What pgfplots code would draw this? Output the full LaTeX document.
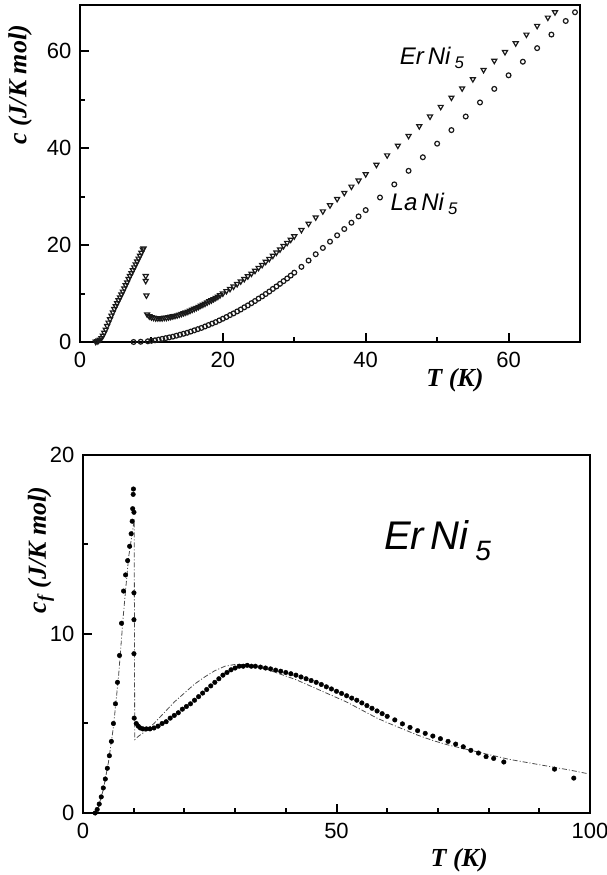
\documentclass[border=0pt]{standalone}
\usepackage{fontspec}
\setmainfont{Liberation Serif}
\setsansfont{Liberation Sans}
\usepackage{pgfplots}
\pgfplotsset{compat=1.18}
\pgfplotsset{
  mystyle/.style={
    scale only axis, clip=false,
    axis line style={line width=2.5pt},
    tick style={line width=2pt, black},
    tick align=inside,
    xtick pos=bottom, ytick pos=left,
    major tick length=9pt, minor tick length=5pt,
    ticklabel style={font=\sffamily\fontsize{22}{24}\selectfont},
    xticklabel style={yshift=-7pt},
    yticklabel style={xshift=-5pt},
    /pgf/number format/assume math mode=true,
    label style={font=\rmfamily\bfseries\itshape\fontsize{26}{28}\selectfont},
  }
}
\begin{document}
\begin{tikzpicture}[x=1pt,y=1pt]
\path[use as bounding box] (0,0) rectangle (607,875);
% ---------------- top panel ----------------
\begin{axis}[mystyle,
  at={(80pt,533pt)}, anchor=south west,
  width=500pt, height=337pt,
  xmin=0, xmax=70, ymin=0, ymax=69.5,
  xtick={0,20,40,60}, minor xtick={10,30,50},
  ytick={0,20,40,60}, minor ytick={10,30,50},
  xlabel={T (K)},
  xlabel style={at={(axis description cs:0.75,-0.113)}, anchor=center},
  ylabel={c (J/K mol)},
  ylabel style={at={(axis description cs:-0.12,0.763)}, anchor=center},
]
\addplot[only marks, black!90, mark=triangle, mark size=2.9pt,
  mark options={rotate=180, line width=1.2pt, fill=none}] coordinates {
(2.2,0.05)(2.4,0.15)(2.6,0.3)(2.8,0.5)(3.0,0.8)(3.2,1.3)(3.4,1.9)(3.6,2.55)(3.8,3.3)(4.0,4.0)
(4.2,4.7)(4.4,5.45)(4.6,6.1)(4.8,6.8)(5.0,7.4)(5.2,8.0)(5.4,8.6)(5.6,9.2)(5.8,9.8)(6.0,10.4)
(6.2,11.05)(6.4,11.7)(6.6,12.3)(6.8,13.0)(7.0,13.6)(7.2,14.2)(7.4,14.8)(7.6,15.4)(7.8,16.0)
(8.0,16.6)(8.2,17.2)(8.4,17.8)(8.6,18.4)(8.8,19.1)(8.9,19.3)
(9.2,13.6)(9.2,12.6)(9.3,9.6)
(9.4,5.7)(9.7,5.3)(10.0,5.1)(10.3,5.0)(10.6,4.9)(10.9,4.9)(11.2,4.9)(11.5,4.9)(11.8,5.0)
(12.1,5.0)(12.4,5.1)(12.7,5.2)(13.0,5.3)(13.3,5.4)(13.6,5.5)(13.9,5.65)(14.2,5.8)(14.5,5.95)
(14.8,6.1)(15.1,6.25)(15.4,6.45)(15.7,6.65)(16.0,6.85)(16.3,7.05)(16.6,7.25)(16.9,7.5)
(17.2,7.7)(17.5,7.9)(17.8,8.15)(18.1,8.4)(18.4,8.6)(18.7,8.85)(19.0,9.1)(19.3,9.35)(19.6,9.65)
(20.0,10.0)(20.5,10.5)(21,10.95)(21.5,11.45)(22,11.95)(22.5,12.5)(23,13.0)(23.5,13.55)
(24,14.1)(24.5,14.7)(25,15.3)(25.5,15.9)(26,16.55)(26.5,17.15)(27,17.8)(27.5,18.45)
(28,19.1)(28.5,19.8)(29,20.45)(29.5,21.1)(30,21.8)(31,23.1)(32,24.4)(33,25.7)(34,26.95)
(35,28.2)(36,29.5)(37,30.75)(38,32.05)(39,33.3)(40,34.6)(41.5,36.55)(43,38.5)(44.5,40.5)
(46,42.5)(47.5,44.5)(49,46.5)(50.5,48.5)(52,50.4)(53.5,52.3)(55,54.2)(56.5,56.1)(58,58.0)
(59.5,59.8)(61,61.6)(62.5,63.4)(64,65.2)(65.5,66.9)(66.5,68.0)
};
\addplot[only marks, black!90, mark=o, mark size=2.4pt,
  mark options={line width=1.2pt}] coordinates {
(7.5,0)(8.5,0.05)(9.5,0.15)(10,0.25)(10.5,0.35)(11,0.5)(11.5,0.65)(12,0.8)(12.5,0.95)
(13,1.1)(13.5,1.3)(14,1.5)(14.5,1.7)(15,1.9)(15.5,2.15)(16,2.4)(16.5,2.65)(17,2.9)
(17.5,3.2)(18,3.5)(18.5,3.8)(19,4.1)(19.5,4.45)(20,4.8)(20.5,5.15)(21,5.55)(21.5,5.9)
(22,6.3)(22.5,6.7)(23,7.15)(23.5,7.55)(24,8.0)(24.5,8.45)(25,8.95)(25.5,9.4)(26,9.9)
(26.5,10.4)(27,10.95)(27.5,11.45)(28,12.0)(28.5,12.55)(29,13.1)(29.5,13.7)(30,14.3)
(31,15.5)(32,16.8)(33,18.1)(34,19.4)(35,20.7)(36,22.0)(37,23.3)(38,24.6)(39,25.9)(40,27.2)
(42,29.8)(44,32.5)(46,35.3)(48,38.1)(50,40.9)(52,43.7)(54,46.5)(56,49.4)(58,52.2)(60,55.0)
(62,57.8)(64,60.6)(66,63.4)(68,66.2)(69.3,68.0)
};
\node[font=\sffamily\itshape\fontsize{24}{26}\selectfont] at (axis cs:49.3,58.6) {Er\,Ni\,\textsubscript{5}};
\node[font=\sffamily\itshape\fontsize{24}{26}\selectfont] at (axis cs:48.2,28.5) {La\,Ni\,\textsubscript{5}};
\end{axis}
% ---------------- bottom panel ----------------
\begin{axis}[mystyle,
  at={(83pt,62pt)}, anchor=south west,
  width=507pt, height=358pt,
  xmin=0, xmax=100, ymin=0, ymax=20,
  xtick={0,50,100}, minor xtick={10,20,30,40,60,70,80,90},
  ytick={0,10,20}, minor ytick={5,15},
  xlabel={T (K)},
  xlabel style={at={(axis description cs:0.742,-0.131)}, anchor=center},
  ylabel={c\textsubscript{f} (J/K mol)},
  ylabel style={at={(axis description cs:-0.083,0.735)}, anchor=center},
]
\addplot[black!70, line width=0.8pt, dash pattern=on 5pt off 2pt on 1pt off 2pt] coordinates {
(2.4,0)(3,0.3)(4,1.3)(5,2.8)(6,4.8)(7,7.6)(8,11.2)(9,14.3)(9.8,15.8)(10.1,16.4)
(10.2,4.1)(11,4.3)(12,4.5)(14,5.0)(16,5.6)(18,6.2)(20,6.7)(22,7.2)(24,7.6)(26,7.95)
(28,8.2)(30,8.3)(32,8.3)(34,8.2)(36,8.05)(38,7.85)(40,7.65)(42,7.45)(44,7.2)(46,6.95)
(48,6.7)(50,6.45)(52,6.2)(54,5.9)(56,5.6)(58,5.3)(60,5.05)(63,4.7)(66,4.35)(69,4.05)(72,3.8)
(75,3.6)(78,3.4)(81,3.2)(84,3.0)(87,2.85)(90,2.7)(93,2.55)(96,2.4)(99.5,2.2)
};
\addplot[only marks, black, mark=*, mark size=2.3pt] coordinates {
(2.4,0)(2.8,0.2)(3.2,0.5)(3.6,0.9)(4.0,1.4)(4.4,1.9)(4.8,2.5)(5.2,3.2)(5.6,4.0)(6.0,5.0)
(6.4,6.1)(6.8,7.3)(7.2,8.8)(7.6,10.6)(8.0,12.4)(8.4,13.3)(8.8,14.1)(9.2,14.9)(9.5,15.6)
(9.7,16.3)(9.8,17.0)(9.9,17.8)(9.95,18.1)
(10.05,16.8)(10.05,12.3)(10.05,10.8)(10.05,8.9)(10.1,5.3)
(10.5,5.0)(10.9,4.85)(11.3,4.75)(11.8,4.7)(12.5,4.7)(13.2,4.7)(14,4.75)(14.8,4.85)
(15.6,5.0)(16.4,5.1)(17.2,5.3)(18,5.45)(18.8,5.6)(19.6,5.8)(20.4,5.95)(21.2,6.1)(22,6.3)
(22.8,6.5)(23.6,6.7)(24.4,6.9)(25.2,7.1)(26,7.3)(26.8,7.5)(27.6,7.7)(28.4,7.85)(29.2,8.0)
(30,8.1)(30.8,8.2)(31.6,8.2)(32.4,8.25)(33.2,8.2)(34,8.2)(35,8.15)(36,8.1)(37,8.05)
(38,7.98)(39,7.92)(40,7.85)(41,7.78)(42,7.7)(43,7.6)(44,7.5)(45,7.4)(46,7.3)(47,7.18)
(48,7.05)(49,6.93)(50,6.8)(51,6.68)(52,6.55)(53,6.42)(54,6.3)(55,6.15)(56,6.0)(57,5.85)
(58,5.7)(59,5.55)(60,5.4)(61.5,5.2)(63,4.98)(64.5,4.78)(66,4.6)(67.5,4.45)(69,4.3)
(70.5,4.15)(72,4.0)(73.5,3.85)(75,3.7)(76.5,3.5)(78,3.35)(79.5,3.15)(81,3.05)(83,2.85)
(93,2.45)(96.8,1.95)
};
\node[font=\sffamily\itshape\fontsize{40}{42}\selectfont] at (axis cs:70,15.2) {Er\,Ni\,\textsubscript{5}};
\end{axis}
\end{tikzpicture}
\end{document}
